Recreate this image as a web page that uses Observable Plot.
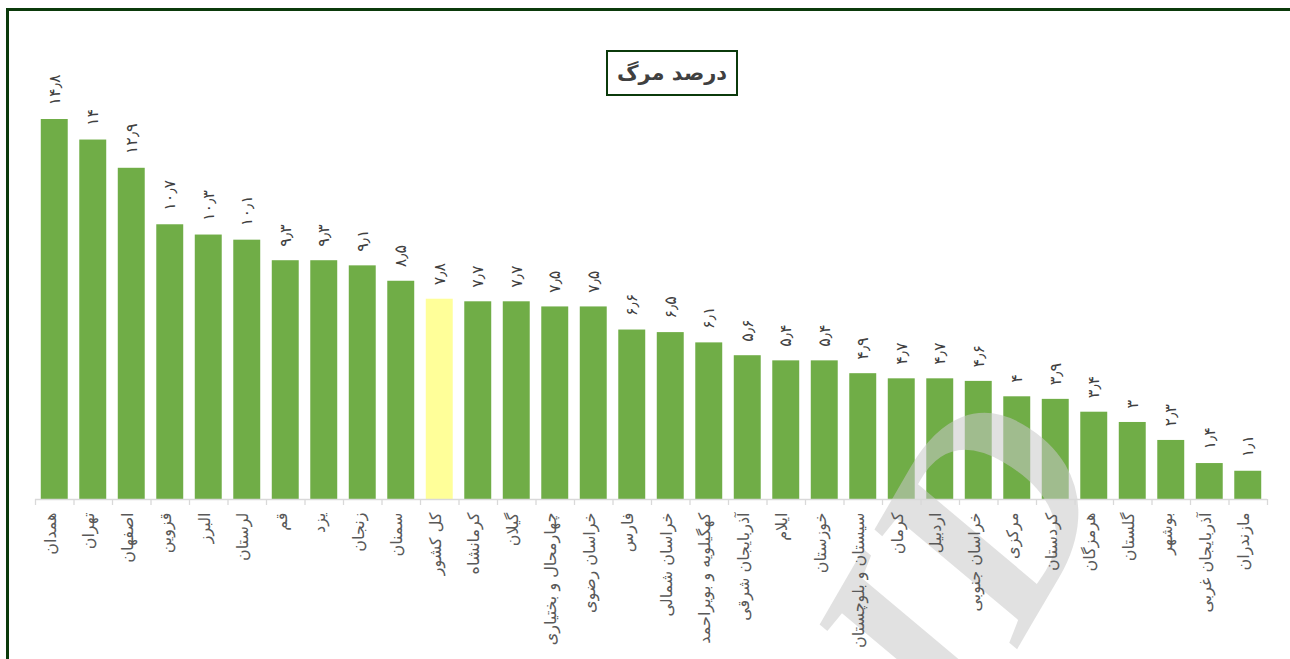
<!DOCTYPE html>
<html>
<head>
<meta charset="utf-8">
<script src="https://cdn.jsdelivr.net/npm/d3@7"></script>
<script src="https://cdn.jsdelivr.net/npm/@observablehq/plot@0.6"></script>
<style>
  html, body { margin: 0; padding: 0; background: #fff; overflow: hidden; }
  body { width: 1290px; height: 659px; position: relative; font-family: "DejaVu Sans", sans-serif; }
  #frame { position: absolute; left: 6px; top: 8px; width: 1300px; height: 700px;
           border-left: 3px solid #0b3a0b; border-top: 3px solid #0b3a0b; box-sizing: border-box; }
  #title { position: absolute; left: 606px; top: 50px; width: 132px; height: 46px; box-sizing: border-box;
           border: 2px solid #0b3a0b; background: #fff; color: #404040; font-weight: bold; font-size: 21px;
           display: flex; align-items: center; justify-content: center; direction: rtl; z-index: 2; }
  #chart { position: absolute; left: 0; top: 0; }
  svg { overflow: visible; }
</style>
</head>
<body>
<div id="frame"></div>
<div id="chart"></div>
<div id="title">درصد مرگ</div>
<script>
const provinces = ["همدان","تهران","اصفهان","قزوین","البرز","لرستان","قم","یزد","زنجان","سمنان","کل کشور","کرمانشاه","گیلان","چهارمحال و بختیاری","خراسان رضوی","فارس","خراسان شمالی","کهگیلویه و بویراحمد","آذربایجان شرقی","ایلام","خوزستان","سیستان و بلوچستان","کرمان","اردبیل","خراسان جنوبی","مرکزی","کردستان","هرمزگان","گلستان","بوشهر","آذربایجان غربی","مازندران"];
const deathRate = [14.8,14,12.9,10.7,10.3,10.1,9.3,9.3,9.1,8.5,7.8,7.7,7.7,7.5,7.5,6.6,6.5,6.1,5.6,5.4,5.4,4.9,4.7,4.7,4.6,4,3.9,3.4,3,2.3,1.4,1.1];
const highlight = "کل کشور";
const watermark = ["SID"];

const data = provinces.map((p, i) => ({province: p, value: deathRate[i]}));
const faDigits = "۰۱۲۳۴۵۶۷۸۹";
const toFa = v => String(v).replace(/\d/g, d => faDigits[d]).replace(".", "٫");

const W = 1290, H = 659;
const mL = 35, mR = 23, mT = 119, mB = 160;
const step = (W - mL - mR) / provinces.length;

const chart = Plot.plot({
  width: W,
  height: H,
  marginLeft: mL,
  marginRight: mR,
  marginTop: mT,
  marginBottom: mB,
  style: {fontFamily: "DejaVu Sans, sans-serif", background: "transparent"},
  x: {type: "band", domain: provinces, paddingInner: 0.3, paddingOuter: 0.15, round: false, axis: null, label: null},
  y: {domain: [0, 14.8], axis: null},
  marks: [
    Plot.barY(data, {x: "province", y: "value", fill: d => d.province === highlight ? "#ffff99" : "#70ad47"}),
    Plot.text(watermark, {text: d => d, frameAnchor: "bottom-right", dx: -265, dy: 175, rotate: -60, fontSize: 280, fontFamily: "Liberation Serif", fontWeight: "bold", fontStyle: "italic", fill: "#c8c8c8", fillOpacity: 0.55, textAnchor: "middle"}),
    Plot.ruleY([0], {stroke: "#d9d9d9", strokeWidth: 1.3}),
    Plot.axisX({tickSize: 6, tickFormat: () => "", dx: -step / 2, stroke: "#d9d9d9", strokeWidth: 1.3, label: null}),
    Plot.axisX({ticks: [provinces[provinces.length - 1]], tickSize: 6, tickFormat: () => "", dx: step / 2, stroke: "#d9d9d9", strokeWidth: 1.3, label: null}),
    Plot.text(data, {x: "province", y: "value", text: d => toFa(d.value), rotate: -90, textAnchor: "start", dy: -14, fontSize: 16, fill: "#404040"}),
    Plot.text(data, {x: "province", text: "province", frameAnchor: "bottom", rotate: -90, textAnchor: "end", dy: 13, dx: 1, fontSize: 16, fill: "#595959"})
  ]
});
document.getElementById("chart").append(chart);
</script>
</body>
</html>
